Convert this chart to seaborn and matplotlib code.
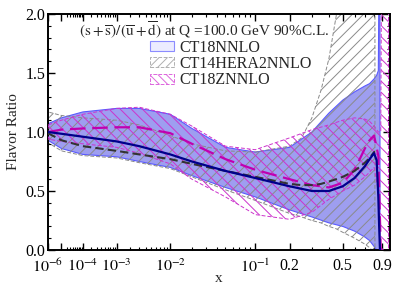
import numpy as np
import pandas as pd
import matplotlib
matplotlib.use("Agg")
import matplotlib.pyplot as plt
from matplotlib.patches import Patch
from matplotlib.ticker import FixedLocator, MultipleLocator, FixedFormatter
import seaborn as sns

# ---------------- data ----------------
x_ct18 = [1e-6, 1e-5, 1e-4, 1e-3, 3e-3, 1e-2, 2e-2, 5e-2, 0.1, 0.2, 0.3, 0.4, 0.5,
          0.6, 0.7, 0.75, 0.8, 0.83, 0.85, 0.86, 0.87]
ct18_c = [1.00, 0.985, 0.96, 0.92, 0.88, 0.81, 0.75, 0.67, 0.61, 0.54, 0.50, 0.50, 0.54,
          0.61, 0.71, 0.77, 0.82, 0.76, 0.45, 0.20, 0.00]
ct18_lo = [0.93, 0.86, 0.81, 0.79, 0.75, 0.70, 0.63, 0.53, 0.45, 0.34, 0.28, 0.23, 0.20,
           0.16, 0.11, 0.08, 0.03, 0.00, -0.05, -0.10, -0.10]
ct18_hi = [1.07, 1.12, 1.17, 1.20, 1.20, 1.15, 1.03, 0.87, 0.83, 0.87, 1.00, 1.16, 1.27,
           1.34, 1.39, 1.41, 1.45, 1.48, 1.52, 2.50, 2.50]

x_ct14 = [1e-6, 1e-5, 1e-4, 1e-3, 3e-3, 1e-2, 2e-2, 5e-2, 0.1, 0.2, 0.25, 0.3, 0.35,
          0.4, 0.45, 0.5, 0.6, 0.7, 0.75, 0.8, 0.81]
ct14_c = [0.99, 0.93, 0.88, 0.84, 0.81, 0.77, 0.73, 0.67, 0.62, 0.56, 0.55, 0.55, 0.56,
          0.58, 0.60, 0.62, 0.67, 0.74, 0.78, 0.83, 0.83]
ct14_lo = [0.91, 0.84, 0.80, 0.78, 0.74, 0.69, 0.62, 0.51, 0.42, 0.31, 0.28, 0.25, 0.23,
           0.20, 0.18, 0.15, 0.10, 0.05, 0.02, -0.02, -0.05]
ct14_hi = [1.17, 1.14, 1.12, 1.10, 1.06, 0.97, 0.90, 0.84, 0.83, 0.88, 0.95, 1.12, 1.35,
           1.62, 1.98, 2.30, 2.80, 3.00, 3.00, 3.00, 3.00]

x_ct18z = [1e-6, 1e-5, 1e-4, 1e-3, 3e-3, 1e-2, 2e-2, 5e-2, 0.1, 0.2, 0.3, 0.4, 0.5,
           0.6, 0.7, 0.75, 0.8, 0.85, 0.88, 0.89, 0.98]
ct18z_c = [1.00, 1.02, 1.03, 1.04, 1.04, 0.99, 0.90, 0.77, 0.68, 0.60, 0.55, 0.53, 0.57,
           0.68, 0.86, 0.93, 0.97, 0.80, 0.00, -0.30, -0.30]
ct18z_lo = [0.94, 0.92, 0.90, 0.87, 0.82, 0.73, 0.60, 0.45, 0.30, 0.26, 0.32, 0.43, 0.50,
            0.55, 0.62, 0.66, 0.70, 0.50, 0.00, -0.50, -0.50]
ct18z_hi = [1.06, 1.10, 1.15, 1.20, 1.21, 1.15, 1.05, 0.88, 0.85, 0.95, 1.02, 1.06, 1.10,
            1.12, 1.11, 1.09, 1.05, 1.00, 1.00, 2.50, 2.50]

labels = ["CT18NNLO", "CT14HERA2NNLO", "CT18ZNNLO"]
xtick_vals = [1e-6, 1e-5, 1e-4, 1e-3, 1e-2, 1e-1, 0.2, 0.5, 0.9]
xtick_labels = [r"$10^{-6}$", "", r"$10^{-4}$", r"$10^{-3}$", r"$10^{-2}$",
                r"$10^{-1}$", "0.2", "0.5", "0.9"]
title_text = (r"$\mathrm{(s+\overline{s})/(\overline{u}+\overline{d})}$"
              " at Q =100.0 GeV 90%C.L.")

# ---------------- style ----------------
sns.set_theme(style="ticks")
plt.rcParams["font.family"] = ["Liberation Serif", "DejaVu Serif"]
plt.rcParams["mathtext.fontset"] = "stix"
plt.rcParams["hatch.linewidth"] = 0.7

fig = plt.figure(figsize=(4.07, 2.85), dpi=100)
ax = fig.add_axes([48 / 407, 35 / 285, 342 / 407, 236 / 285])

fwd = lambda v: np.power(np.clip(v, 1e-12, None), 0.2)
inv = lambda v: np.power(np.clip(v, 0, None), 5.0)
ax.set_xscale("function", functions=(fwd, inv))
ax.set_xlim(1e-6, 1.0)
ax.set_ylim(0, 2)

blue_fill = "#9e9ef0"
blue_edge = "#5a5aff"
gray = "#8a8a8a"
mag = "#cc33cc"

ax.fill_between(x_ct18, ct18_lo, ct18_hi, facecolor=blue_fill, edgecolor=blue_edge,
                linewidth=0.8, zorder=1)
ax.fill_between(x_ct14, ct14_lo, ct14_hi, facecolor="none", edgecolor=gray,
                hatch="///", linestyle=(0, (4, 2)), linewidth=0.7, zorder=2)
ax.fill_between(x_ct18z, ct18z_lo, ct18z_hi, facecolor="none", edgecolor=mag,
                hatch="\\\\\\", linestyle=(0, (4, 2)), linewidth=0.7, zorder=3)

df18 = pd.DataFrame({"x": x_ct18, "y": ct18_c})
df14 = pd.DataFrame({"x": x_ct14, "y": ct14_c})
df18z = pd.DataFrame({"x": x_ct18z, "y": ct18z_c})
sns.lineplot(data=df18z, x="x", y="y", ax=ax, color="#c000b0", linewidth=1.6,
             estimator=None, sort=False, zorder=4, linestyle=(0, (7, 3)))
sns.lineplot(data=df14, x="x", y="y", ax=ax, color="#333333", linewidth=1.5,
             estimator=None, sort=False, zorder=5, linestyle=(0, (4, 2)))
sns.lineplot(data=df18, x="x", y="y", ax=ax, color="#00008b", linewidth=1.6,
             estimator=None, sort=False, zorder=6)

# ---------------- axes ----------------
ax.xaxis.set_major_locator(FixedLocator(xtick_vals))
ax.xaxis.set_major_formatter(FixedFormatter(xtick_labels))
minor = []
for dec in [1e-5, 1e-4, 1e-3, 1e-2]:
    minor += [k * dec for k in range(2, 10)]
minor += [0.3, 0.4, 0.6, 0.7, 0.8]
ax.xaxis.set_minor_locator(FixedLocator(minor))
ax.yaxis.set_major_locator(MultipleLocator(0.5))
ax.yaxis.set_minor_locator(MultipleLocator(0.1))
ax.yaxis.set_major_formatter(matplotlib.ticker.FormatStrFormatter("%.1f"))
ax.tick_params(which="both", direction="in", top=True, right=True, colors="black",
               labelsize=11.5)
ax.tick_params(which="major", length=5, width=1.0)
ax.tick_params(axis="y", which="major", pad=2)
ax.tick_params(axis="x", which="major", pad=6)
ax.tick_params(which="minor", length=2.5, width=0.8)
for s in ax.spines.values():
    s.set_linewidth(1.4)
    s.set_color("black")

ax.set_xlabel("x", fontsize=11, labelpad=-3)
ax.set_ylabel("Flavor Ratio", fontsize=11, labelpad=4)

ax.text(0.456, 0.932, title_text, transform=ax.transAxes, ha="center", va="center",
        fontsize=11, zorder=10)

handles = [
    Patch(facecolor="#ececff", edgecolor="#8c8cff", linewidth=0.8),
    Patch(facecolor="white", edgecolor="#b0b0b0", hatch="////", linestyle="--",
          linewidth=0.7),
    Patch(facecolor="white", edgecolor="#dd66dd", hatch="\\\\\\\\", linestyle="--",
          linewidth=0.7),
]
leg = ax.legend(handles, labels, loc="upper left", bbox_to_anchor=(0.295, 0.898),
                frameon=False, fontsize=11.5, handlelength=1.5, handleheight=0.6,
                handletextpad=0.3, labelspacing=0.02, borderpad=0.1,
                borderaxespad=0)
leg.set_zorder(10)

fig.savefig("out.png", dpi=100)
